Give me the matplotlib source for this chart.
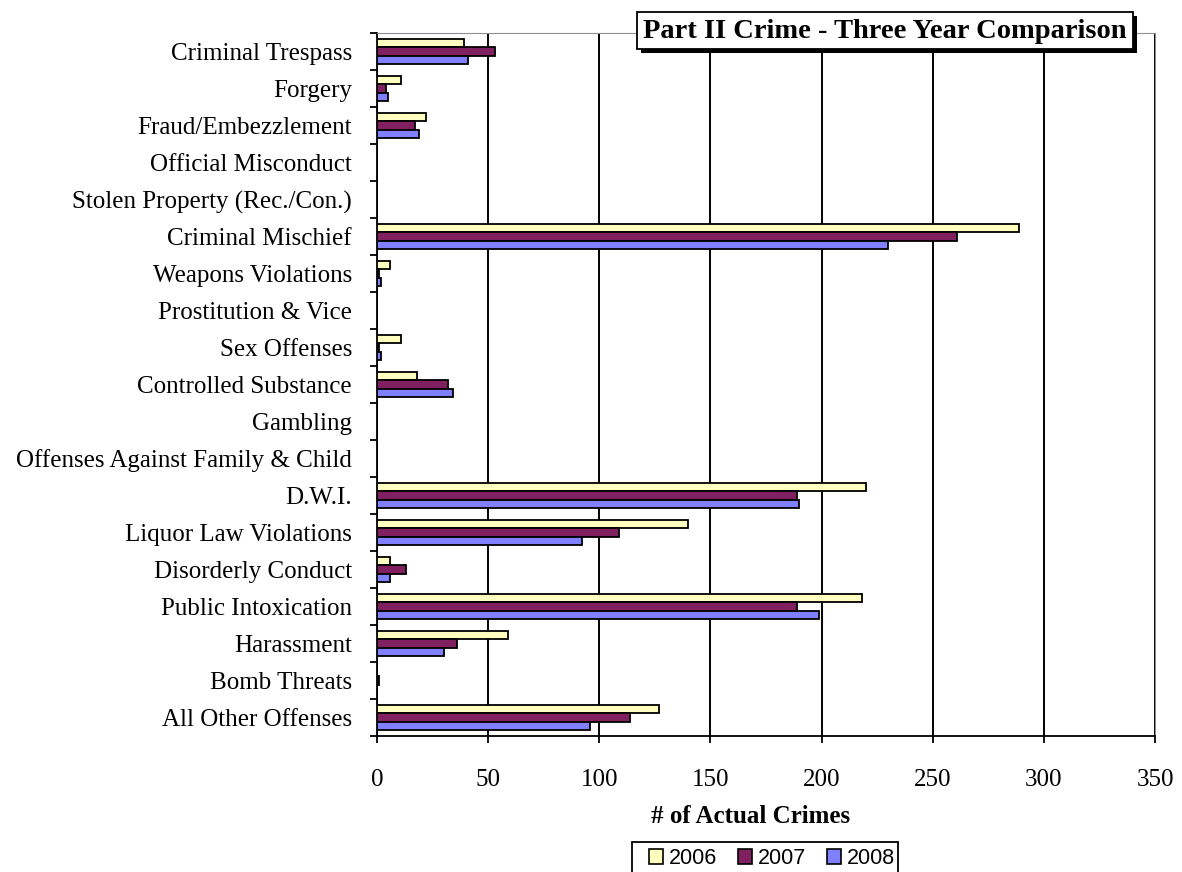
import matplotlib
matplotlib.use('Agg')
import matplotlib.pyplot as plt
from matplotlib.patches import Patch, Rectangle
import numpy as np

categories = ['Criminal Trespass', 'Forgery', 'Fraud/Embezzlement', 'Official Misconduct',
              'Stolen Property (Rec./Con.)', 'Criminal Mischief', 'Weapons Violations',
              'Prostitution & Vice', 'Sex Offenses', 'Controlled Substance', 'Gambling',
              'Offenses Against Family & Child', 'D.W.I.', 'Liquor Law Violations',
              'Disorderly Conduct', 'Public Intoxication', 'Harassment', 'Bomb Threats',
              'All Other Offenses']
years = ['2006', '2007', '2008']
crimes_2006 = [39, 11, 22, 0, 0, 289, 6, 0, 11, 18, 0, 0, 220, 140, 6, 218, 59, 0, 127]
crimes_2007 = [53, 4, 17, 0, 0, 261, 1, 0, 1, 32, 0, 0, 189, 109, 13, 189, 36, 1, 114]
crimes_2008 = [41, 5, 19, 0, 0, 230, 2, 0, 2, 34, 0, 0, 190, 92, 6, 199, 30, 0, 96]
colors = ['#FFFFC0', '#802060', '#8080FF']

W, H = 1182, 872
fig = plt.figure(figsize=(W / 100, H / 100), dpi=100)
ax = fig.add_axes([377 / W, 1 - 736 / H, (1155 - 377) / W, (736 - 33) / H])

serif = 'Liberation Serif'
y = np.arange(len(categories))
h = 0.225
for i, (vals, c) in enumerate(zip([crimes_2006, crimes_2007, crimes_2008], colors)):
    ax.barh(y + (i - 1) * h, vals, height=h, color=c, edgecolor='black', linewidth=1.3, zorder=3)

ax.set_xlim(0, 350)
ax.set_ylim(len(categories) - 0.5, -0.5)
ax.set_xticks(range(0, 351, 50))
ax.set_yticks(y)
ax.set_yticklabels(categories, fontfamily=serif, fontsize=18)
ax.set_yticks(np.arange(-0.5, len(categories)), minor=True)
ax.tick_params(axis='y', which='major', length=0, pad=18)
ax.tick_params(axis='y', which='minor', length=5, width=1.3, direction='out')
ax.tick_params(axis='x', length=5, width=1.3, direction='out', pad=19, labelsize=18)
for lab in ax.get_xticklabels():
    lab.set_fontfamily(serif)
ax.grid(axis='x', color='black', linewidth=1.4, zorder=1)
ax.spines['left'].set_linewidth(1.3)
ax.spines['bottom'].set_linewidth(1.3)
ax.spines['top'].set_color('#909090')
ax.spines['right'].set_color('#909090')

fig.text(751 / W, 1 - 816 / H, '# of Actual Crimes', fontfamily=serif, fontweight='bold',
         fontsize=18, ha='center', va='center')

# title box with shadow
fig.patches.append(Rectangle((641 / W, 1 - 53 / H), (1137 - 641) / W, 37 / H,
                             transform=fig.transFigure, facecolor='black', zorder=5))
fig.patches.append(Rectangle((637 / W, 1 - 49 / H), (1133 - 637) / W, 37 / H,
                             transform=fig.transFigure, facecolor='white', edgecolor='black',
                             linewidth=1.3, zorder=6))
fig.text(885 / W, 1 - 32 / H, 'Part II Crime - Three Year Comparison', fontfamily=serif,
         fontweight='bold', fontsize=20.5, ha='center', va='center', zorder=7)

# legend frame drawn by hand, runs off the bottom edge like the reference
fig.patches.append(Rectangle((632 / W, 1 - 885 / H), (898 - 632) / W, (885 - 842) / H,
                             transform=fig.transFigure, facecolor='white', edgecolor='black',
                             linewidth=1.3, zorder=4))
handles = [Patch(facecolor=c, edgecolor='black', linewidth=1.2) for c in colors]
leg = fig.legend(handles, years, loc='upper left', bbox_to_anchor=(649 / W, 1 - 848 / H),
                 ncol=3, frameon=False, handlelength=0.65, handleheight=0.65,
                 handletextpad=0.25, columnspacing=1.0, borderaxespad=0, borderpad=0,
                 prop={'family': 'Liberation Sans', 'size': 15.5})
leg.set_zorder(8)

fig.savefig('out.png', dpi=100)
